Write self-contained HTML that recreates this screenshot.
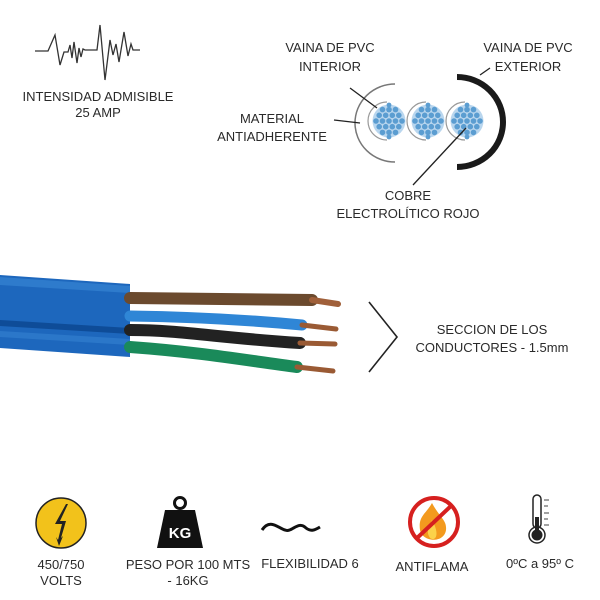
<!DOCTYPE html>
<html><head><meta charset="utf-8"><style>
html,body{margin:0;padding:0;background:#fff;}
svg{display:block}
text{font-family:"Liberation Sans",sans-serif;font-size:13px;fill:#2a2a2a;}
</style></head><body>
<svg width="600" height="600" viewBox="0 0 600 600">
<defs>
<g id="dots" fill="#5b9dd1">
<circle cx="0" cy="0" r="2.8"/><circle cx="-6.5" cy="0" r="2.8"/><circle cx="6.5" cy="0" r="2.8"/><circle cx="-13" cy="0" r="2.8"/><circle cx="13" cy="0" r="2.8"/>
<circle cx="-3.3" cy="-5.7" r="2.8"/><circle cx="3.3" cy="-5.7" r="2.8"/><circle cx="-9.8" cy="-5.7" r="2.8"/><circle cx="9.8" cy="-5.7" r="2.8"/>
<circle cx="-3.3" cy="5.7" r="2.8"/><circle cx="3.3" cy="5.7" r="2.8"/><circle cx="-9.8" cy="5.7" r="2.8"/><circle cx="9.8" cy="5.7" r="2.8"/>
<circle cx="0" cy="-11.4" r="2.8"/><circle cx="-6.5" cy="-11.4" r="2.8"/><circle cx="6.5" cy="-11.4" r="2.8"/>
<circle cx="0" cy="11.4" r="2.8"/><circle cx="-6.5" cy="11.4" r="2.8"/><circle cx="6.5" cy="11.4" r="2.8"/>
<circle cx="0" cy="-16" r="2.4"/><circle cx="0" cy="16" r="2.4"/>
</g>
</defs>
<polyline fill="none" stroke="#333" stroke-width="1.3" points="35,51 48,51 55,35 60,65 64,52 68,52 70,45 72,58 74,42 77,63 79,48 81,57 83,49 85,50 97,50 100,25 105,80 110,40 113,55 116,44 119,62 124,32 128,56 131,44 133,50 140,50"/>
<text x="98" y="101" text-anchor="middle">INTENSIDAD ADMISIBLE</text>
<text x="98" y="117" text-anchor="middle">25 AMP</text>

<text x="330" y="52" text-anchor="middle">VAINA DE PVC</text>
<text x="330" y="71" text-anchor="middle">INTERIOR</text>
<text x="528" y="52" text-anchor="middle">VAINA DE PVC</text>
<text x="528" y="71" text-anchor="middle">EXTERIOR</text>
<text x="272" y="123" text-anchor="middle">MATERIAL</text>
<text x="272" y="141" text-anchor="middle">ANTIADHERENTE</text>
<text x="408" y="200" text-anchor="middle">COBRE</text>
<text x="408" y="218" text-anchor="middle">ELECTROLÍTICO ROJO</text>

<path d="M395,84 A40,39 0 0 0 395,162" fill="none" stroke="#777" stroke-width="1.5"/>
<path d="M457,77 A46,45 0 0 1 457,167" fill="none" stroke="#1a1a1a" stroke-width="6"/>
<path d="M387,102 A19,19 0 0 0 387,140" fill="none" stroke="#999" stroke-width="1.2"/>
<path d="M426,102 A19,19 0 0 0 426,140" fill="none" stroke="#999" stroke-width="1.2"/>
<path d="M465,102 A19,19 0 0 0 465,140" fill="none" stroke="#999" stroke-width="1.2"/>
<circle cx="389" cy="121" r="16.5" fill="#b9d6ee"/>
<circle cx="428" cy="121" r="16.5" fill="#b9d6ee"/>
<circle cx="467" cy="121" r="16.5" fill="#b9d6ee"/>
<use href="#dots" x="389" y="121"/>
<use href="#dots" x="428" y="121"/>
<use href="#dots" x="467" y="121"/>
<g stroke="#222" stroke-width="1.3">
<line x1="350" y1="88" x2="377" y2="108"/>
<line x1="334" y1="120" x2="360" y2="123"/>
<line x1="413" y1="185" x2="466" y2="128"/>
<line x1="480" y1="75" x2="490" y2="68"/>
</g>

<polygon points="0,275 130,284 130,357 0,348" fill="#1d67bd"/>
<path d="M0,277 L130,286 L130,293 L0,285Z" fill="#3a88d6" opacity="0.6"/>
<path d="M0,320 L130,328 L130,334 L0,326Z" fill="#0e4c98"/>
<path d="M0,331 L130,339 L130,345 L0,337Z" fill="#3a88d6" opacity="0.5"/>
<g stroke-linecap="round" fill="none">
<path d="M130,298 L312,300" stroke="#6b4a2e" stroke-width="12"/>
<path d="M312,300 L338,304" stroke="#a0603a" stroke-width="6"/>
<path d="M130,316 C200,317 260,321 302,325" stroke="#2f86d6" stroke-width="11"/>
<path d="M302,325 L336,329" stroke="#9a5a34" stroke-width="5"/>
<path d="M130,330 C180,330 220,338 300,343" stroke="#222" stroke-width="12"/>
<path d="M300,343 L335,344" stroke="#9a5a34" stroke-width="5"/>
<path d="M130,347 C200,352 250,361 297,367" stroke="#1a8a5a" stroke-width="12"/>
<path d="M297,367 L333,371" stroke="#9a5a34" stroke-width="5"/>
</g>
<polyline points="369,302 397,337 369,372" fill="none" stroke="#222" stroke-width="1.6"/>
<text x="492" y="334" text-anchor="middle">SECCION DE LOS</text>
<text x="492" y="352" text-anchor="middle">CONDUCTORES - 1.5mm</text>

<circle cx="61" cy="523" r="25" fill="#f2c21b" stroke="#222" stroke-width="1.5"/>
<path d="M66,504 L55,524 L62,524 L58,540 L56,537 L59,546 L63,536 L61,538 L66,521 L60,521 L68,504Z" fill="#222"/>
<circle cx="180" cy="503" r="5.5" fill="none" stroke="#111" stroke-width="3"/>
<path d="M165,510 L195,510 L203,548 L157,548Z" fill="#111"/>
<text x="180" y="538" text-anchor="middle" style="font-size:15px;font-weight:bold;fill:#fff">KG</text>
<path d="M262,530 C270,518 278,528 285,530 C292,533 298,520 306,528 C311,532 315,530 320,527" fill="none" stroke="#111" stroke-width="3"/>
<path d="M432,503 C426,514 418,516 420,530 C422,542 444,544 446,530 C447,520 440,518 432,503Z" fill="#f39a1e"/>
<path d="M432,520 C428,528 426,532 430,538 C436,542 440,534 432,520Z" fill="#fbd24a"/>
<circle cx="434" cy="522" r="24" fill="none" stroke="#d6201f" stroke-width="4"/>
<line x1="452" y1="505" x2="416" y2="539" stroke="#d6201f" stroke-width="4"/>
<rect x="533" y="495" width="8" height="33" rx="4" fill="#fff" stroke="#222" stroke-width="1.5"/>
<circle cx="537" cy="535" r="8" fill="#fff" stroke="#222" stroke-width="1.5"/>
<rect x="535" y="517" width="4" height="15" fill="#222"/><circle cx="537" cy="535" r="5.5" fill="#222"/>
<g stroke="#444" stroke-width="1"><line x1="544" y1="500" x2="549" y2="500"/><line x1="544" y1="506" x2="548" y2="506"/><line x1="544" y1="513" x2="549" y2="513"/><line x1="544" y1="519" x2="548" y2="519"/><line x1="544" y1="525" x2="549" y2="525"/></g>

<text x="61" y="569" text-anchor="middle">450/750</text>
<text x="61" y="585" text-anchor="middle">VOLTS</text>
<text x="188" y="569" text-anchor="middle">PESO POR 100 MTS</text>
<text x="188" y="585" text-anchor="middle">- 16KG</text>
<text x="310" y="568" text-anchor="middle">FLEXIBILIDAD 6</text>
<text x="432" y="571" text-anchor="middle">ANTIFLAMA</text>
<text x="540" y="568" text-anchor="middle">0ºC a 95º C</text>
</svg>
</body></html>
